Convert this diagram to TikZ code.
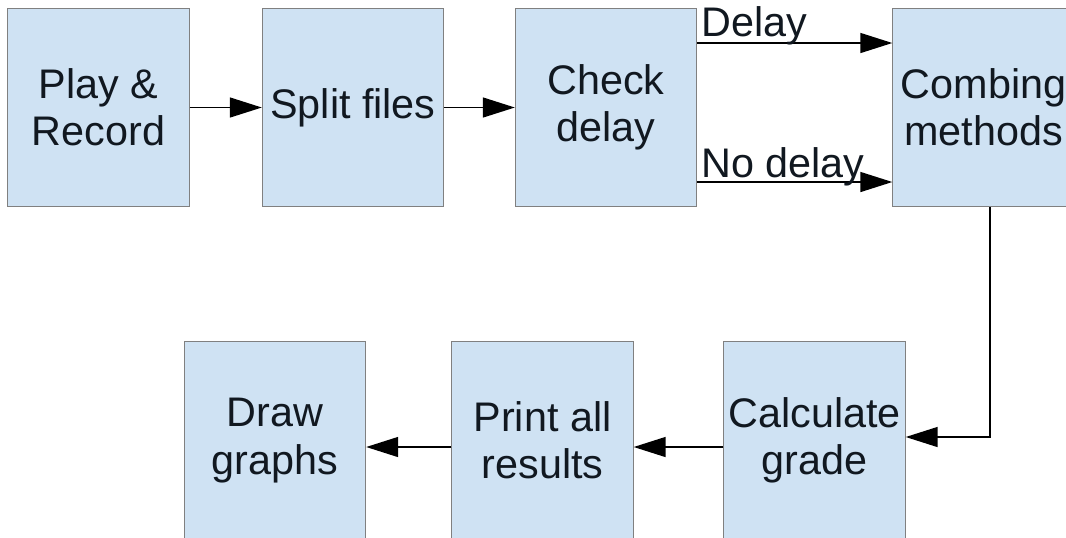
\documentclass[tikz,border=0pt]{standalone}
\usepackage{fontspec}
\setmainfont{Liberation Sans}
\usetikzlibrary{arrows.meta}
\definecolor{boxfill}{HTML}{CFE2F3}
\definecolor{boxline}{HTML}{808080}
\definecolor{txt}{HTML}{111820}
\begin{document}
\begin{tikzpicture}[x=0.75pt,y=-0.75pt,
  stepbox/.style={draw=boxline, line width=0.8pt, fill=boxfill,
    minimum width=136pt, minimum height=149pt, inner sep=0pt,
    align=center, font=\fontsize{31}{35.5}\selectfont, text=txt},
  flow/.style={line width=1.1pt, -{Triangle[length=24pt,width=15pt]}},
  lbl/.style={font=\fontsize{31}{35}\selectfont, inner sep=0pt, anchor=base west, text=txt}]
\clip (0,0) rectangle (1066,537);
\fill[white] (0,0) rectangle (1066,537);
\node[stepbox] (A) at (98.5,107.5) {Play \&\\Record};
\node[stepbox] (B) at (353,107.5) {Split files};
\node[stepbox] (C) at (606,107.5) {Check\\delay};
\node[stepbox] (D) at (983.5,107.5) {Combing\\methods};
\node[stepbox] (E) at (814.5,440.5) {Calculate\\grade};
\node[stepbox] (F) at (542.5,440.5) {Print all\\results};
\node[stepbox] (G) at (275,440.5) {Draw\\graphs};
\coordinate (dy) at (0,43);
\coordinate (ndy) at (0,182);
\coordinate (turn) at (990,437);
\coordinate (by) at (0,447);
\draw[flow] (A.east) -- (B.west);
\draw[flow] (B.east) -- (C.west);
\draw[flow] (C.east |- dy) -- (D.west |- dy);
\draw[flow] (C.east |- ndy) -- (D.west |- ndy);
\draw[flow] (D.south -| turn) -- (turn) -- (E.east |- turn);
\draw[flow] (E.west |- by) -- (F.east |- by);
\draw[flow] (F.west |- by) -- (G.east |- by);
\node[lbl] (ld) at (701,36) {Delay};
\node[lbl] (lnd) at (701,177) {No delay};
\end{tikzpicture}
\end{document}
